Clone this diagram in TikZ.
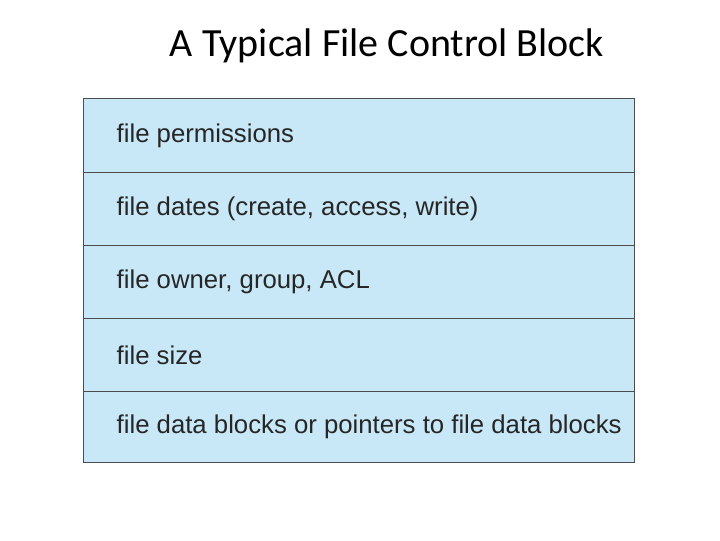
\documentclass[tikz,border=0pt]{standalone}
\usepackage{fontspec}
\setmainfont{Liberation Sans}
\newfontfamily\titlefont{Carlito}
\definecolor{fcbblue}{RGB}{200,232,247}
\begin{document}
\begin{tikzpicture}[x=0.75pt,y=0.75pt]
\tikzstyle{row}=[draw=black!70,fill=fcbblue,line width=0.8pt,minimum width=551*0.75pt,anchor=north west,inner sep=0pt];
\tikzstyle{rowtext}=[anchor=west,font=\fontsize{19.3}{22}\selectfont,text=black!85];
\useasboundingbox (0,0) rectangle (720,540);
\node [font=\titlefont\fontsize{30}{34}\selectfont] (title) at (387,494) {A Typical File Control Block};
\node [row,minimum height=74*0.75pt] (r1) at (83,442) {};
\node [row,minimum height=73*0.75pt] (r2) at (83,368) {};
\node [row,minimum height=73*0.75pt] (r3) at (83,295) {};
\node [row,minimum height=73*0.75pt] (r4) at (83,222) {};
\node [row,minimum height=71*0.75pt] (r5) at (83,149) {};
\node [rowtext] at ([xshift=29*0.75pt]r1.west) {file permissions};
\node [rowtext] at ([xshift=29*0.75pt]r2.west) {file dates (create, access, write)};
\node [rowtext] at ([xshift=29*0.75pt]r3.west) {file owner, group, ACL};
\node [rowtext] at ([xshift=29*0.75pt]r4.west) {file size};
\node [rowtext] at ([xshift=29*0.75pt]r5.west) {file data blocks or pointers to file data blocks};
\end{tikzpicture}
\end{document}
